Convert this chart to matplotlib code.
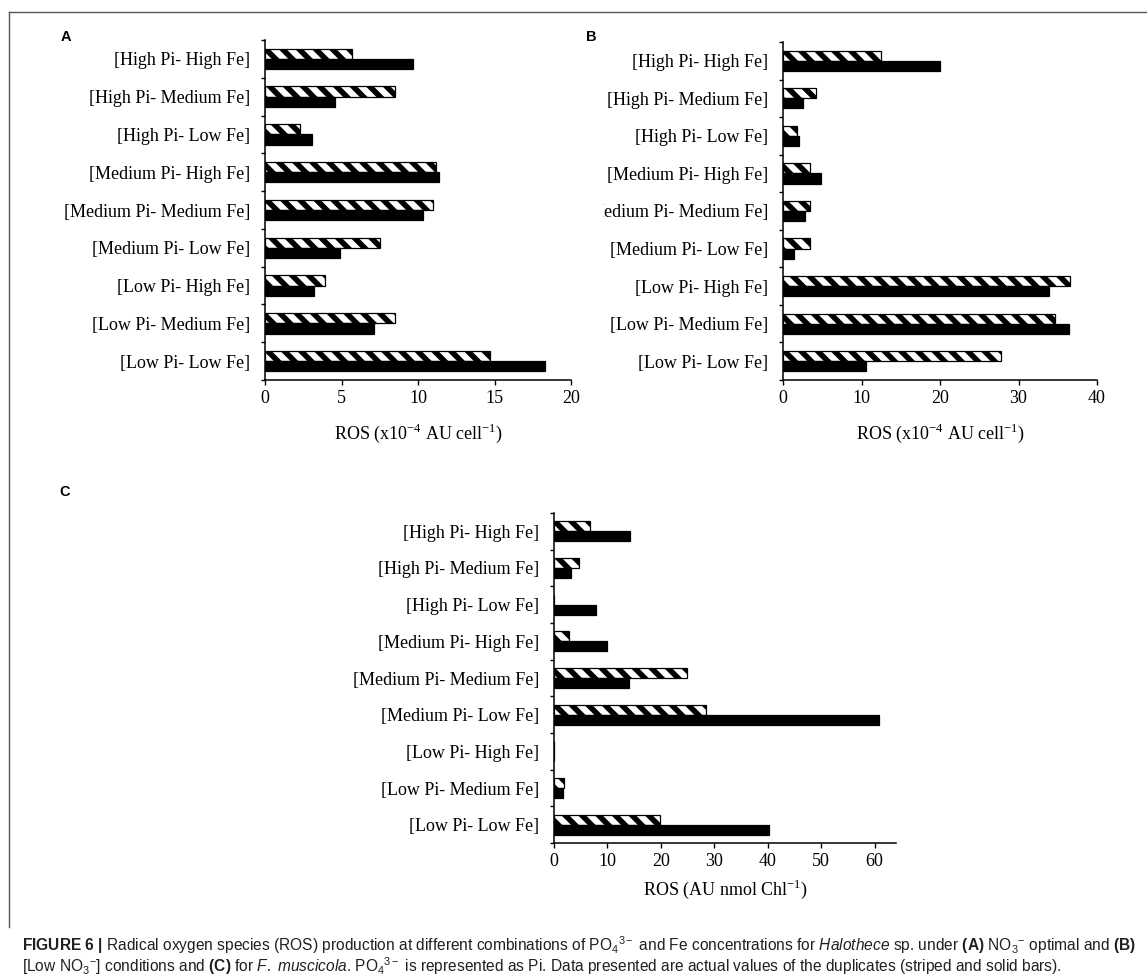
import matplotlib
matplotlib.use("Agg")
import matplotlib.pyplot as plt
import numpy as np
from matplotlib.lines import Line2D
from matplotlib.transforms import Bbox, TransformedBbox

# Treatment combinations, top to bottom
categories = [
    "[High Pi- High Fe]",
    "[High Pi- Medium Fe]",
    "[High Pi- Low Fe]",
    "[Medium Pi- High Fe]",
    "[Medium Pi- Medium Fe]",
    "[Medium Pi- Low Fe]",
    "[Low Pi- High Fe]",
    "[Low Pi- Medium Fe]",
    "[Low Pi- Low Fe]",
]

# (A) Halothece, NO3- optimal  (x10^-4 AU cell^-1)
a_striped = [5.7, 8.5, 2.3, 11.2, 11.0, 7.5, 3.9, 8.5, 14.7]
a_solid = [9.7, 4.6, 3.1, 11.4, 10.3, 4.9, 3.2, 7.1, 18.3]

# (B) Halothece, low NO3-  (x10^-4 AU cell^-1)
b_striped = [12.5, 4.2, 1.8, 3.5, 3.5, 3.4, 36.5, 34.6, 27.8]
b_solid = [20.0, 2.5, 2.0, 4.8, 2.8, 1.4, 33.9, 36.4, 10.6]

# (C) F. muscicola  (AU nmol Chl^-1)
c_striped = [6.8, 4.7, 0.0, 2.9, 24.8, 28.4, 0.0, 1.9, 19.9]
c_solid = [14.3, 3.1, 7.8, 9.9, 14.1, 60.9, 0.0, 1.75, 40.2]

a_ticks = [0, 5, 10, 15, 20]
b_ticks = [0, 10, 20, 30, 40]
c_ticks = [0, 10, 20, 30, 40, 50, 60]

plt.rcParams["font.family"] = "Liberation Serif"
plt.rcParams["hatch.linewidth"] = 4.0
plt.rcParams["mathtext.fontset"] = "custom"
plt.rcParams["mathtext.rm"] = "Liberation Serif"
plt.rcParams["mathtext.sf"] = "Liberation Sans"
plt.rcParams["mathtext.it"] = "Liberation Sans:italic"
plt.rcParams["mathtext.bf"] = "Liberation Sans:bold"

W, H = 1147, 976
fig = plt.figure(figsize=(W / 100, H / 100), dpi=100)


def px_axes(left, top, right, bottom):
    return fig.add_axes([left / W, 1 - bottom / H, (right - left) / W, (bottom - top) / H])


def draw_panel(ax, striped, solid, xmax, xticks, xlabel, labelpad=10):
    y = np.arange(len(categories))
    h = 0.27
    ax.barh(y - h / 2, striped, height=h, color="white", edgecolor="black",
            linewidth=0.9, hatch="\\\\")
    ax.barh(y + h / 2, solid, height=h, color="black", edgecolor="black", linewidth=0.9)
    ax.set_ylim(len(categories) - 0.5, -0.5)
    ax.set_xlim(0, xmax)
    ax.set_yticks(y)
    ax.set_yticklabels(categories, fontsize=13)
    ax.set_yticks(np.arange(len(categories) + 1) - 0.5, minor=True)
    ax.tick_params(axis="y", which="major", length=0, pad=10.5)
    ax.tick_params(axis="y", which="minor", length=3, width=1.0, direction="out")
    ax.set_xticks(xticks)
    ax.tick_params(axis="x", length=3.5, width=1.0, pad=4, labelsize=13)
    for side in ["top", "right"]:
        ax.spines[side].set_visible(False)
    for side in ["left", "bottom"]:
        ax.spines[side].set_linewidth(1.1)
    ax.set_xlabel(xlabel, fontsize=13, labelpad=labelpad)


ax_a = px_axes(265, 40, 571, 380)
draw_panel(ax_a, a_striped, a_solid, 20, a_ticks, r"ROS (x10$^{-4}$ AU cell$^{-1}$)")

ax_b = px_axes(783, 42, 1097, 380)
draw_panel(ax_b, b_striped, b_solid, 40, b_ticks, r"ROS (x10$^{-4}$ AU cell$^{-1}$)")

ax_c = px_axes(554, 513, 896, 843)
draw_panel(ax_c, c_striped, c_solid, 64, c_ticks, r"ROS (AU nmol Chl$^{-1}$)", labelpad=5)

# panel B labels get cut off where panel A ends
clip = TransformedBbox(Bbox([[603 / W, 0], [1, 1]]), fig.transFigure)
for lbl in ax_b.get_yticklabels():
    lbl.set_clip_on(True)
    lbl.set_clip_box(clip)

# panel letters
for letter, x, y in [("A", 66, 37), ("B", 591, 37), ("C", 65, 492)]:
    fig.text(x / W, 1 - y / H, letter, family="Liberation Sans", fontweight="bold",
             fontsize=10.5, ha="center", va="center")

# frame around the figure
frame_kw = dict(color="#555555", linewidth=1.0, transform=fig.transFigure)
fig.add_artist(Line2D([9 / W, 1], [1 - 12 / H, 1 - 12 / H], **frame_kw))
fig.add_artist(Line2D([9 / W, 9 / W], [1 - 12 / H, 1 - 927 / H], **frame_kw))

# caption
po4 = r"PO$_{\mathsf{4}}{}^{\mathsf{3-}}$"
no3 = r"NO$_{\mathsf{3}}{}^{\mathsf{-}}$"
line1 = (r"$\mathbf{FIGURE\ 6\ |}$ Radical oxygen species (ROS) production at different "
         r"combinations of " + po4 + r" and Fe concentrations for "
         r"$\mathit{Halothece}$ sp. under $\mathbf{(A)}$ " + no3 + r" "
         r"optimal and $\mathbf{(B)}$")
line2 = (r"[Low " + no3 + r"] conditions and $\mathbf{(C)}$ for "
         r"$\mathit{F.}$ $\mathit{muscicola}$. " + po4 + r" is represented as Pi. "
         r"Data presented are actual values of the duplicates (striped and solid bars).")
for txt, y in [(line1, 945), (line2, 966)]:
    fig.text(22 / W, 1 - y / H, txt, family="Liberation Sans", fontsize=11.2,
             color="#231f20", ha="left", va="center")

fig.savefig("out.png", dpi=100)
